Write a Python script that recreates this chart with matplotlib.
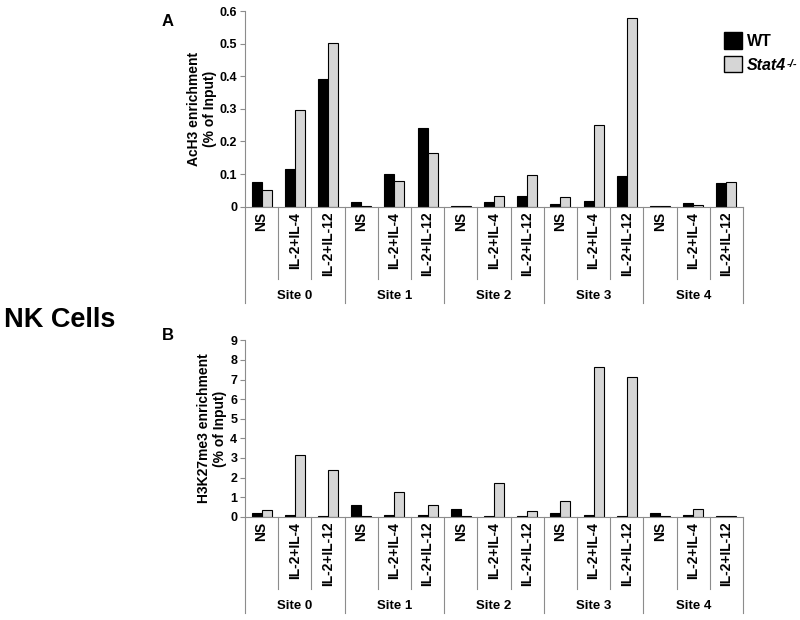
import matplotlib
matplotlib.use('Agg')
import matplotlib.pyplot as plt
from matplotlib.patches import Patch
from matplotlib.transforms import blended_transform_factory
import numpy as np

plt.rcParams['font.family'] = ['Liberation Sans', 'DejaVu Sans']
plt.rcParams['font.weight'] = 'bold'

# categories
sites = ['Site 0', 'Site 1', 'Site 2', 'Site 3', 'Site 4']
treatments = ['NS', 'IL-2+IL-4', 'IL-2+IL-12']

# panel A: AcH3 enrichment (% of input), 15 groups = 5 sites x 3 treatments
ach3_wt = [0.075, 0.115, 0.390,
           0.014, 0.101, 0.242,
           0.001, 0.015, 0.033,
           0.007, 0.017, 0.095,
           0.001, 0.010, 0.074]
ach3_stat4 = [0.052, 0.297, 0.503,
              0.001, 0.078, 0.166,
              0.001, 0.034, 0.096,
              0.030, 0.251, 0.578,
              0.001, 0.005, 0.077]

# panel B: H3K27me3 enrichment (% of input)
k27_wt = [0.17, 0.07, 0.02,
          0.58, 0.08, 0.08,
          0.39, 0.03, 0.03,
          0.17, 0.10, 0.02,
          0.20, 0.08, 0.04]
k27_stat4 = [0.33, 3.15, 2.36,
             0.05, 1.26, 0.58,
             0.06, 1.73, 0.27,
             0.78, 7.62, 7.12,
             0.02, 0.37, 0.05]

LINE_GRAY = '#8c8c8c'
FILL_GRAY = '#d6d6d6'
FIG_W, FIG_H = 800, 620


def draw_panel(ax, wt, ko, yticks, ylabel, ax_h_px):
    x = np.arange(len(wt))
    w = 0.3
    ax.bar(x - w / 2, wt, w, color='black', edgecolor='black', linewidth=0.8)
    ax.bar(x + w / 2, ko, w, color=FILL_GRAY, edgecolor='black', linewidth=0.8)
    ax.set_xlim(-0.5, len(wt) - 0.5)
    ax.set_ylim(yticks[0], yticks[-1])
    ax.set_yticks(yticks)
    ax.set_yticklabels([('%g' % t) for t in yticks], fontsize=9, fontweight='bold')
    ax.set_xticks([])
    for s in ['top', 'right']:
        ax.spines[s].set_visible(False)
    for s in ['left', 'bottom']:
        ax.spines[s].set_color(LINE_GRAY)
        ax.spines[s].set_linewidth(0.8)
    ax.tick_params(axis='y', colors=LINE_GRAY, labelcolor='black', length=3.5, width=0.8, pad=2)
    ax.set_ylabel(ylabel, fontsize=10, fontweight='bold', labelpad=2)

    # category table under the x axis
    tr = blended_transform_factory(ax.transData, ax.transAxes)
    def frac(px):
        return -px / ax_h_px
    for b in np.arange(-0.5, len(wt), 1.0):
        is_site = (b + 0.5) % 3 == 0
        depth = 96 if is_site else 72
        ax.plot([b, b], [0, frac(depth)], color=LINE_GRAY, lw=0.8,
                transform=tr, clip_on=False)
    for i in range(len(wt)):
        ax.text(i, frac(5), treatments[i % 3], rotation=90, ha='center', va='top',
                fontsize=10, fontweight='bold', transform=tr)
    for j, site in enumerate(sites):
        ax.text(3 * j + 1, frac(89), site, ha='center', va='center',
                fontsize=9.5, fontweight='bold', transform=tr)


fig = plt.figure(figsize=(8, 6.2), dpi=100)

left = 245 / FIG_W
width = (743 - 245) / FIG_W
ax_a = fig.add_axes([left, 1 - 206.7 / FIG_H, width, (206.7 - 11) / FIG_H])
ax_b = fig.add_axes([left, 1 - 516.7 / FIG_H, width, (516.7 - 340.3) / FIG_H])

draw_panel(ax_a, ach3_wt, ach3_stat4, np.round(np.arange(0, 0.61, 0.1), 1),
           'AcH3 enrichment\n(% of Input)', 206.7 - 11)
draw_panel(ax_b, k27_wt, k27_stat4, np.arange(0, 10, 1),
           'H3K27me3 enrichment\n(% of Input)', 516.7 - 340.3)

fig.text(168 / FIG_W, 1 - 21 / FIG_H, 'A', fontsize=12, fontweight='bold', ha='center', va='center')
fig.text(168 / FIG_W, 1 - 335 / FIG_H, 'B', fontsize=12, fontweight='bold', ha='center', va='center')
fig.text(4 / FIG_W, 1 - 320 / FIG_H, 'NK Cells', fontsize=19.5, fontweight='bold', ha='left', va='center')

handles = [Patch(facecolor='black', edgecolor='black'),
           Patch(facecolor=FILL_GRAY, edgecolor='black')]
leg = fig.legend(handles, ['WT', 'Stat4'],
                 loc='upper left', bbox_to_anchor=(713 / FIG_W, 1 - 21 / FIG_H),
                 frameon=False, fontsize=11.5, handlelength=1.1, handleheight=1.2,
                 handletextpad=0.3, labelspacing=0.45, borderpad=0.2)
leg.get_texts()[1].set_fontstyle('italic')

# superscript -/- after "Stat4"
fig.canvas.draw()
bb = leg.get_texts()[1].get_window_extent()
fig.text((bb.x1 + 1) / FIG_W, (bb.y1 - 1) / FIG_H, '-/-', fontsize=8,
         fontweight='bold', fontstyle='italic', ha='left', va='top')

fig.savefig('out.png', dpi=100)
